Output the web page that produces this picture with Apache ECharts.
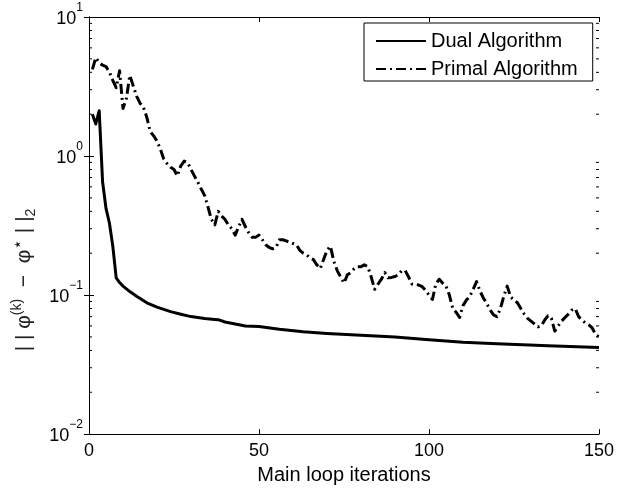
<!DOCTYPE html>
<html>
<head>
<meta charset="utf-8">
<script src="https://cdn.jsdelivr.net/npm/echarts@6/dist/echarts.min.js"></script>
<style>html,body{margin:0;padding:0;background:#fff}#c{width:639px;height:490px}</style>
</head>
<body>
<div id="c"></div>
<script>
// ---- data ----
const xMin = 0, xMax = 150, xInterval = 50;
const yMin = 0.01, yMax = 10;
const minorTicks = [0.02,0.03,0.04,0.05,0.06,0.07,0.08,0.09,
                    0.2,0.3,0.4,0.5,0.6,0.7,0.8,0.9,
                    2,3,4,5,6,7,8,9];

const dualIter = [1,2,3,4,5,6,7,8,9,10,12,14,17,20,24,27,30,34,37,38,40,43,46,50,56,63,70,80,90,100,110,120,135,150];
const dualVal  = [2.0,1.7,2.12,0.65,0.42,0.33,0.225,0.133,0.123,0.116,0.106,0.098,0.088,0.082,0.076,0.0728,0.070,0.0678,0.0668,0.0665,0.064,0.062,0.060,0.0595,0.0568,0.0545,0.0530,0.0515,0.0500,0.0478,0.0457,0.0446,0.0432,0.0420];

const primalVal = [
  4.2,5.1,4.7,4.5,4.4,4.0,3.5,3.1,4.1,2.2,
  2.6,3.8,3.2,2.7,2.4,2.25,1.9,1.5,1.4,1.28,
  1.12,0.95,0.88,0.83,0.80,0.72,0.85,0.92,0.90,0.80,
  0.72,0.65,0.58,0.52,0.43,0.35,0.32,0.40,0.37,0.35,
  0.32,0.30,0.27,0.31,0.35,0.31,0.28,0.26,0.26,0.27,
  0.25,0.23,0.22,0.215,0.22,0.25,0.25,0.245,0.24,0.235,
  0.23,0.21,0.20,0.195,0.185,0.18,0.165,0.155,0.18,0.21,
  0.225,0.175,0.15,0.135,0.122,0.14,0.145,0.155,0.16,0.16,
  0.165,0.16,0.135,0.11,0.12,0.13,0.145,0.133,0.134,0.136,
  0.14,0.15,0.15,0.135,0.12,0.12,0.118,0.115,0.108,0.10,
  0.093,0.12,0.13,0.122,0.116,0.10,0.08,0.075,0.069,0.084,
  0.092,0.098,0.11,0.125,0.107,0.095,0.087,0.078,0.072,0.07,
  0.08,0.098,0.116,0.097,0.092,0.088,0.08,0.073,0.068,0.065,
  0.062,0.059,0.06,0.066,0.071,0.068,0.055,0.06,0.065,0.069,
  0.073,0.078,0.08,0.07,0.066,0.063,0.061,0.058,0.052,0.05
];

const seriesNames = ['Dual Algorithm', 'Primal Algorithm'];
const xName = 'Main loop iterations';

// ---- chart ----
const FONT = '"Liberation Sans", Arial, Helvetica, sans-serif';
const chart = echarts.init(document.getElementById('c'), null, {renderer: 'canvas'});

const dualData = dualIter.map((x, i) => [x, dualVal[i]]);
const primalData = primalVal.map((v, i) => [i + 1, v]);

function supLabel(v) {
  const e = Math.round(Math.log10(v));
  return '{b|10}{s|' + (e < 0 ? '\u2212' + (-e) : e) + '}';
}
const tickRich = {
  b: {fontSize: 18, fontFamily: FONT, color: '#000', lineHeight: 30, verticalAlign: 'middle', padding: [4, 0, 0, 0]},
  s: {fontSize: 12, fontFamily: FONT, color: '#000', lineHeight: 10, verticalAlign: 'top'}
};

const axisLineStyle = {show: true, lineStyle: {color: '#000', width: 1}};

const option = {
  animation: false,
  backgroundColor: '#fff',
  grid: {left: 89, right: 40, top: 17, bottom: 52, containLabel: false},
  xAxis: [{
    type: 'value', min: xMin, max: xMax, interval: xInterval,
    position: 'bottom',
    name: xName, nameLocation: 'middle', nameGap: 28,
    nameTextStyle: {fontSize: 20, fontFamily: FONT, color: '#000'},
    axisLine: axisLineStyle,
    axisTick: {show: true, inside: true, length: 5, lineStyle: {color: '#000'}},
    axisLabel: {fontSize: 18, fontFamily: FONT, color: '#000', margin: 8},
    splitLine: {show: false}
  }, {
    type: 'value', min: xMin, max: xMax, interval: xInterval,
    position: 'top',
    axisLine: axisLineStyle,
    axisTick: {show: true, inside: true, length: 5, lineStyle: {color: '#000'}},
    axisLabel: {show: false},
    splitLine: {show: false}
  }],
  yAxis: [{
    type: 'log', logBase: 10, min: yMin, max: yMax, interval: 1,
    position: 'left',
    axisLine: axisLineStyle,
    axisTick: {show: true, inside: true, length: 5, lineStyle: {color: '#000'}},
    axisLabel: {formatter: supLabel, rich: tickRich, margin: 6, align: 'right'},
    splitLine: {show: false},
    minorTick: {show: false}
  }, {
    type: 'log', logBase: 10, min: yMin, max: yMax, interval: 1,
    position: 'right',
    axisLine: axisLineStyle,
    axisTick: {show: true, inside: true, length: 5, lineStyle: {color: '#000'}},
    axisLabel: {show: false},
    splitLine: {show: false}
  }],
  legend: {
    data: seriesNames,
    orient: 'vertical',
    left: 364, top: 23,
    padding: [8, 15, 2, 11],
    itemGap: 8,
    itemWidth: 50, itemHeight: 14,
    backgroundColor: '#fff',
    borderColor: '#000', borderWidth: 1, borderRadius: 0,
    itemStyle: {opacity: 0},
    textStyle: {fontSize: 20, fontFamily: FONT, color: '#000'},
    selectedMode: false
  },
  series: [{
    name: seriesNames[1], type: 'line', data: primalData,
    xAxisIndex: 0, yAxisIndex: 0,
    symbol: 'none', showSymbol: false, smooth: false,
    lineStyle: {color: '#000', width: 3, type: [10, 4, 2, 4], cap: 'butt', join: 'round'},
    itemStyle: {color: '#000'},
    z: 3
  }, {
    name: seriesNames[0], type: 'line', data: dualData,
    xAxisIndex: 0, yAxisIndex: 0,
    symbol: 'none', showSymbol: false, smooth: false,
    lineStyle: {color: '#000', width: 3, type: 'solid', join: 'round'},
    itemStyle: {color: '#000'},
    z: 4
  }, {
    type: 'custom', name: 'minorTicks',
    xAxisIndex: 0, yAxisIndex: 0,
    silent: true, clip: false,
    data: minorTicks.map(v => [xMin, v]),
    renderItem: function (params, api) {
      const v = api.value(1);
      const pL = api.coord([xMin, v]);
      const pR = api.coord([xMax, v]);
      const st = {stroke: '#000', lineWidth: 1};
      return {
        type: 'group',
        children: [
          {type: 'line', shape: {x1: pL[0], y1: pL[1], x2: pL[0] + 3, y2: pL[1]}, style: st},
          {type: 'line', shape: {x1: pR[0] - 3, y1: pR[1], x2: pR[0], y2: pR[1]}, style: st}
        ]
      };
    },
    z: 2
  }],
  graphic: [{
    type: 'text',
    x: 24, y: 280,
    rotation: Math.PI / 2,
    silent: true,
    style: {
      text: '{n|| | φ}{sp|(k)}{n|  \u2212  φ}{st|\u22c6}{n| | |}{sb|2}',
      align: 'center', verticalAlign: 'middle',
      rich: {
        n: {fontSize: 21, fontFamily: FONT, fill: '#222', lineHeight: 28, verticalAlign: 'middle'},
        sp: {fontSize: 14, fontFamily: FONT, fill: '#222', lineHeight: 14, verticalAlign: 'top'},
        st: {fontSize: 17, fontFamily: '"DejaVu Sans", sans-serif', fill: '#222', lineHeight: 14, verticalAlign: 'top'},
        sb: {fontSize: 14, fontFamily: FONT, fill: '#222', lineHeight: 14, verticalAlign: 'bottom'}
      }
    }
  }]
};
chart.setOption(option);
</script>
</body>
</html>
